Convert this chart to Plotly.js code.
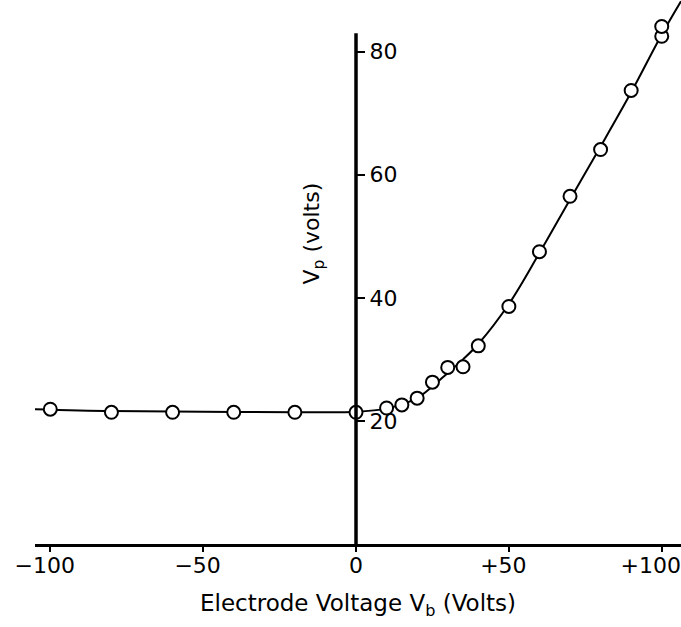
<!DOCTYPE html>
<html>
<head>
<meta charset="utf-8">
<script src="https://cdn.plot.ly/plotly-3.0.1.min.js"></script>
<style>html,body{margin:0;padding:0;background:#fff;}</style>
</head>
<body>
<div id="chart" style="width:681px;height:627px;"></div>
<script>
// Measured points (electrode voltage Vb, plasma potential Vp)
const vbPoints = [-100, -80, -60, -40, -20, 0, 10, 15, 20, 25, 30, 35, 40, 50, 60, 70, 80, 90, 100, 100];
const vpPoints = [21.9, 21.4, 21.4, 21.4, 21.4, 21.4, 22.1, 22.6, 23.7, 26.3, 28.7, 28.8, 32.2, 38.6, 47.5, 56.5, 64.1, 73.7, 82.5, 84.1];

// Hand-drawn smooth curve
const vbCurve = [-105, -80, -50, -20, 0, 10, 15, 20, 25, 30, 35, 40, 50, 60, 70, 80, 90, 100, 106.3];
const vpCurve = [21.9, 21.6, 21.5, 21.4, 21.5, 22.0, 22.7, 23.7, 25.6, 27.8, 30.0, 32.5, 39.0, 47.3, 56.0, 64.6, 73.4, 82.8, 88.2];

const xTickVals = [-100, -50, 0, 50, 100];
// leading spaces re-centre labels after the common left shift of the printed labels
const xTickText = ['\u2002\u2212100', '\u2002\u221250', '\u20030', '\u2002+50', '+100'];
const yTickVals = [20, 40, 60, 80];
const yTickText = ['20', '40', '60', '80'];

const xRange = [-105, 106.3];
const yRange = [0, 88.4];
const yAxisTop = 83;
const font = {family: 'DejaVu Sans, sans-serif', size: 22, color: '#000'};
const titleFont = {family: 'DejaVu Sans, sans-serif', size: 23, color: '#000'};
const yPos = (0 - xRange[0]) / (xRange[1] - xRange[0]);

const traces = [
  {x: vbCurve, y: vpCurve, mode: 'lines', type: 'scatter',
   line: {color: '#000', width: 2, shape: 'spline', smoothing: 1}, hoverinfo: 'skip'},
  {x: vbPoints, y: vpPoints, mode: 'markers', type: 'scatter', cliponaxis: false,
   marker: {symbol: 'circle', size: 13, color: '#fff', line: {color: '#000', width: 2}}}
];

const layout = {
  width: 681, height: 627,
  margin: {l: 35, r: 0, t: 0, b: 83},
  paper_bgcolor: '#fff', plot_bgcolor: '#fff',
  showlegend: false,
  font: font,
  xaxis: {
    range: xRange, showgrid: false, zeroline: false,
    showline: true, linecolor: '#000', linewidth: 3,
    ticks: 'outside', ticklen: 5, tickwidth: 2, tickcolor: '#000',
    tickvals: xTickVals, ticktext: xTickText, tickfont: font,
    ticklabelstandoff: -5, ticklabelshift: -11, ticklabeloverflow: 'allow',
    title: {text: 'Electrode Voltage V<sub>b</sub> (Volts)', font: titleFont, standoff: 18}
  },
  xaxis2: {
    range: xRange, overlaying: 'x', anchor: 'y', showgrid: false, zeroline: false,
    showline: false, ticks: 'inside', ticklen: 8, tickwidth: 2, tickcolor: '#000',
    tickvals: xTickVals, showticklabels: false
  },
  yaxis: {
    range: yRange, showgrid: false, zeroline: false, showline: false,
    anchor: 'free', position: yPos, side: 'right',
    ticks: 'outside', ticklen: 8, tickwidth: 2, tickcolor: '#000',
    tickvals: yTickVals, ticktext: yTickText, tickfont: font
  },
  yaxis2: {
    range: yRange, overlaying: 'y', anchor: 'free', position: yPos, side: 'right',
    showgrid: false, zeroline: false, showline: false,
    ticks: 'inside', ticklen: 8, tickwidth: 2, tickcolor: '#000',
    tickvals: yTickVals, showticklabels: false
  },
  shapes: [
    {type: 'line', xref: 'x', yref: 'y', x0: 0, x1: 0, y0: 0, y1: yAxisTop,
     line: {color: '#000', width: 3.5}, layer: 'above'}
  ],
  annotations: [
    {text: 'V<sub>p</sub> (volts)', xref: 'x', yref: 'y', x: -14, y: 50.5,
     textangle: -90, showarrow: false, font: font}
  ]
};

Plotly.newPlot('chart', traces, layout, {displayModeBar: false, staticPlot: true});
</script>
</body>
</html>
